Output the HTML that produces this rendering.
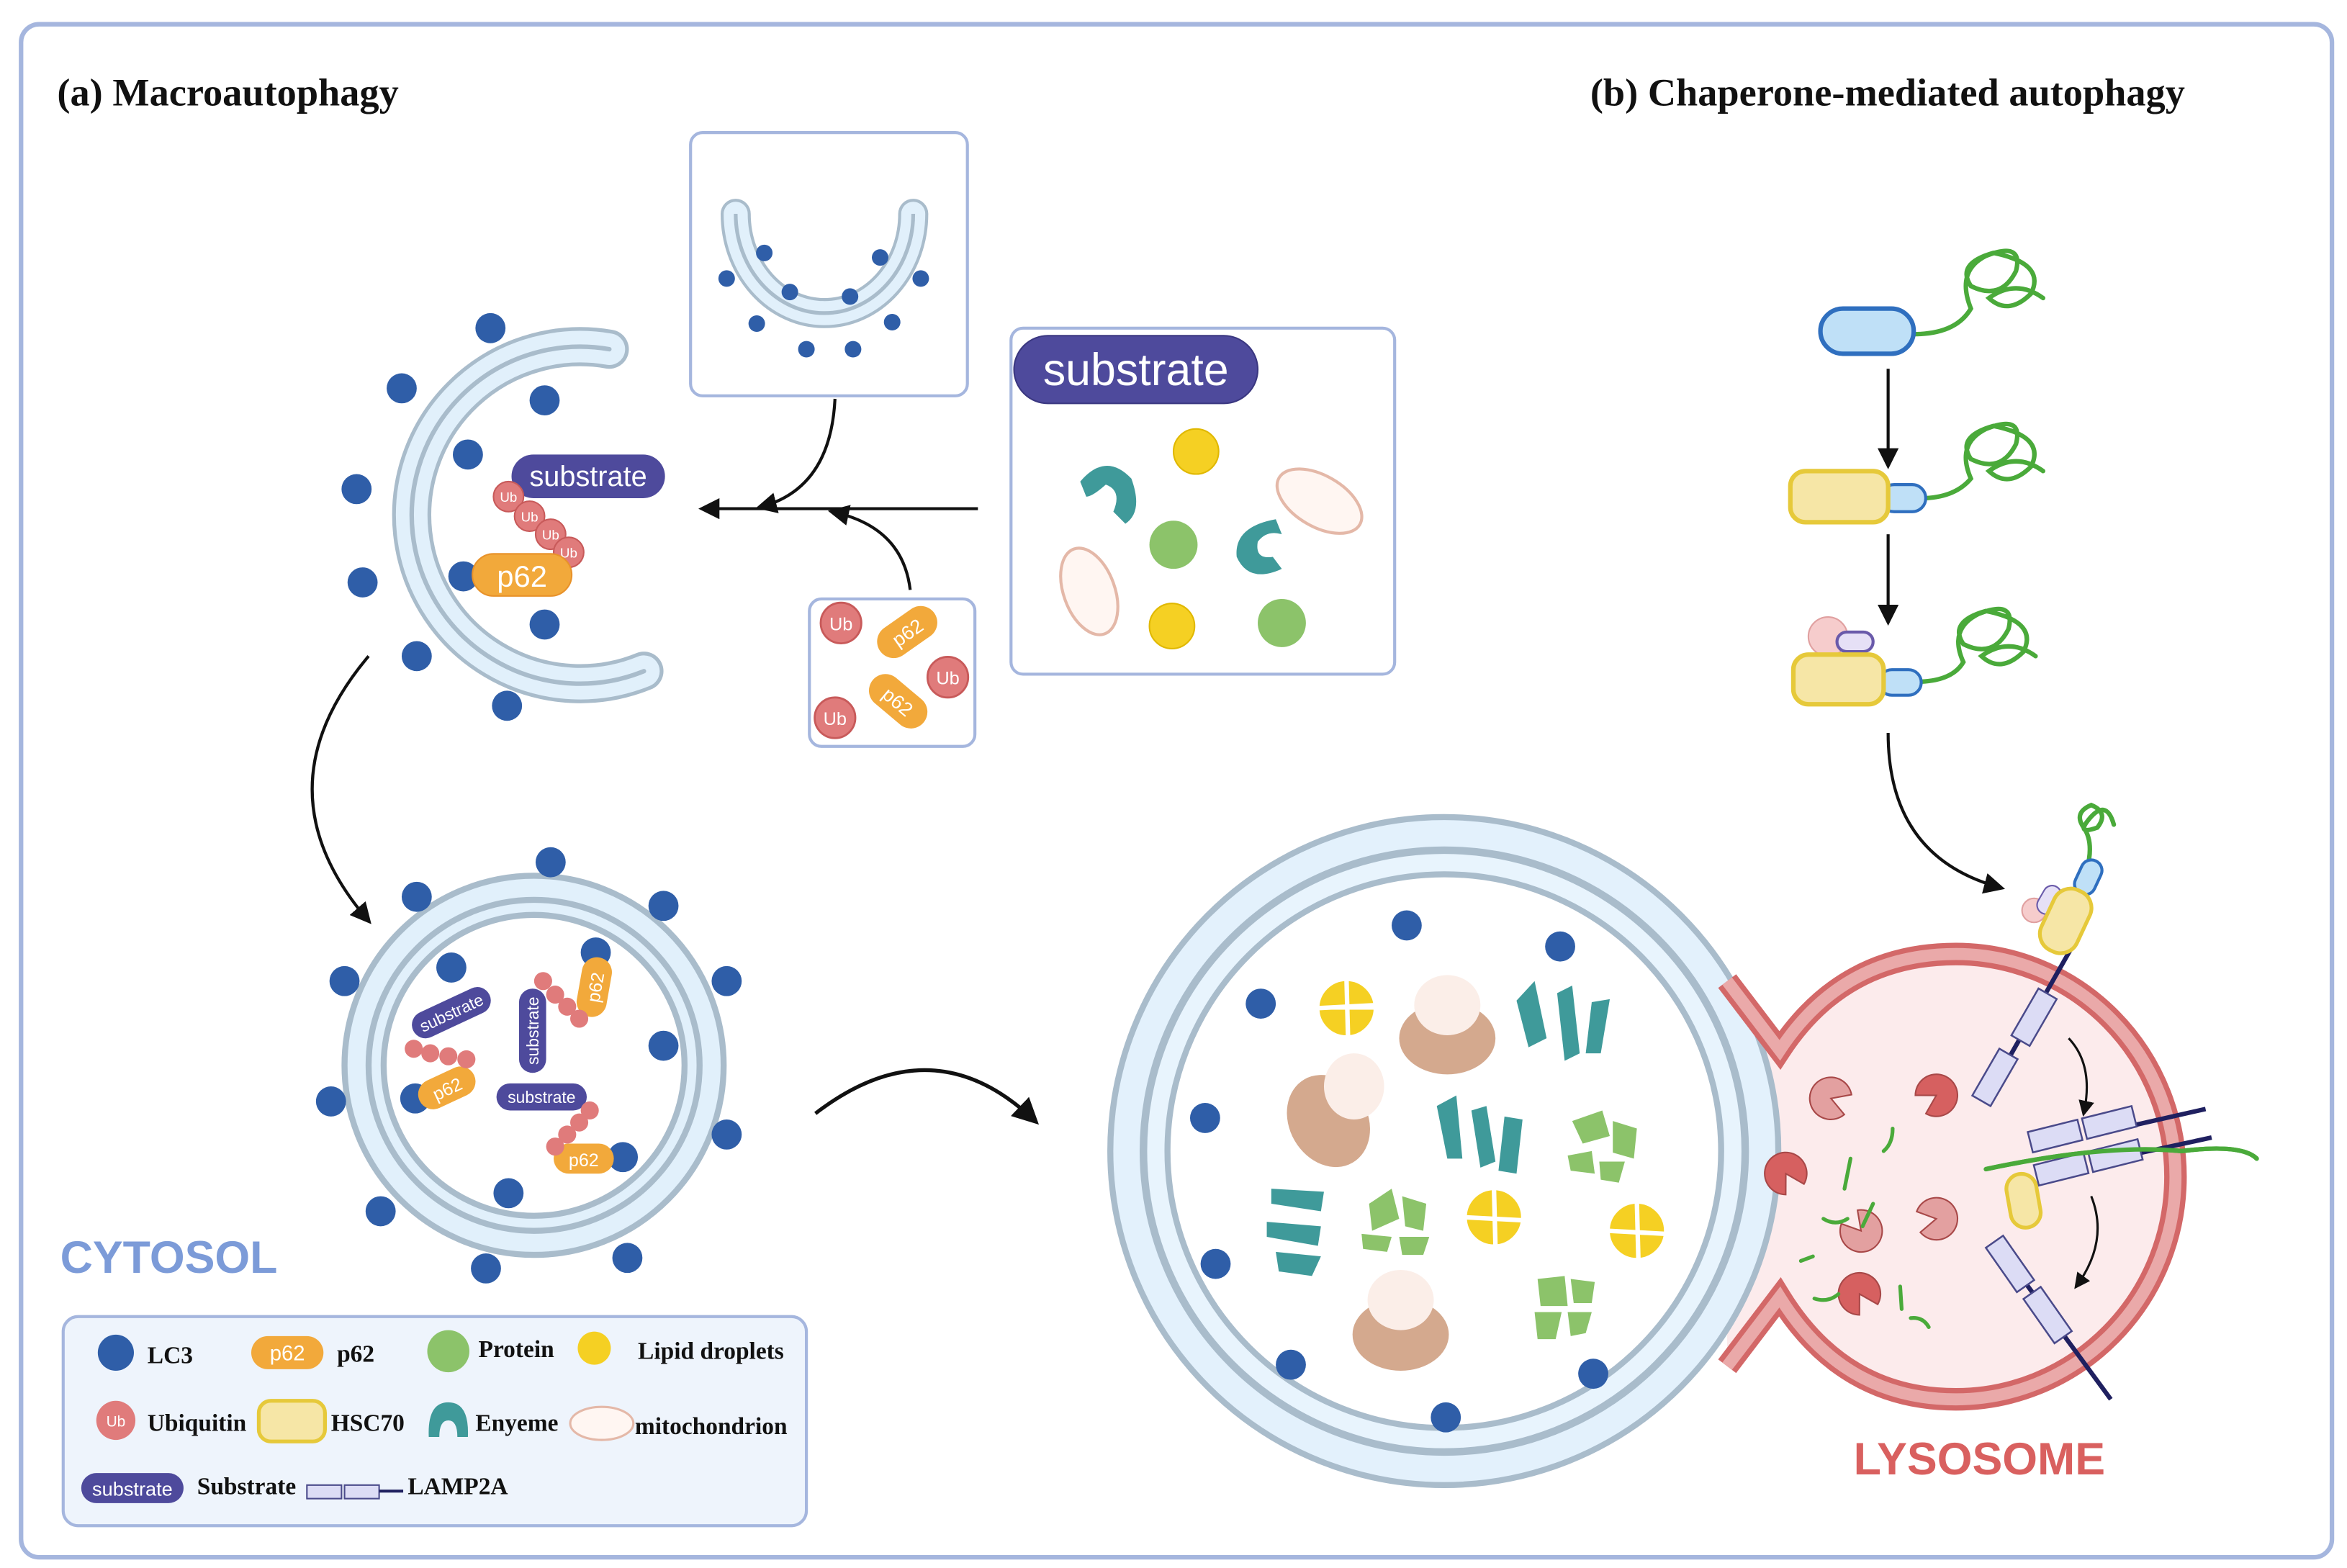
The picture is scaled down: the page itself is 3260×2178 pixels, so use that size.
<!DOCTYPE html>
<html><head><meta charset="utf-8"><style>
html,body{margin:0;padding:0;background:#fff;}
svg{display:block;}
.t{font-family:"Liberation Serif",serif;font-weight:bold;fill:#111;}
.s{font-family:"Liberation Sans",sans-serif;fill:#fff;}
</style></head><body>
<svg width="3260" height="2178" viewBox="0 0 1560 1042" xmlns="http://www.w3.org/2000/svg">
<defs>
<marker id="ah" viewBox="0 0 10 10" refX="8" refY="5" markerWidth="7" markerHeight="7" orient="auto"><path d="M0,0 L10,5 L0,10 Z" fill="#111"/></marker>
<g id="lc3"><circle r="10" fill="#2f5ea8"/></g>
<g id="ub"><circle r="10" fill="#e07b7b" stroke="#c85a5a" stroke-width="1"/><text y="3.5" text-anchor="middle" class="s" font-size="9">Ub</text></g>
<g id="pac"><path d="M0,0 L12,-7 A14,14 0 1 0 12,7 Z" /></g>
</defs>
<rect x="0" y="0" width="1560" height="1042" fill="#fff"/>
<rect x="14" y="16" width="1536" height="1019" rx="12" fill="none" stroke="#a5b6de" stroke-width="3"/>
<text x="38" y="70" class="t" font-size="26">(a) Macroautophagy</text>
<text x="1057" y="70" class="t" font-size="26">(b) Chaperone-mediated autophagy</text>

<!-- phagophore C -->
<path d="M405,232 A112,112 0 1 0 428,446" fill="none" stroke="#a9bccb" stroke-width="26" stroke-linecap="round"/>
<path d="M405,232 A112,112 0 1 0 428,446" fill="none" stroke="#e1f0fb" stroke-width="21" stroke-linecap="round"/>
<path d="M405,232 A112,112 0 1 0 428,446" fill="none" stroke="#a9bccb" stroke-width="3" stroke-linecap="round"/>
<use href="#lc3" x="326" y="218"/><use href="#lc3" x="267" y="258"/><use href="#lc3" x="362" y="266"/><use href="#lc3" x="237" y="325"/><use href="#lc3" x="311" y="302"/><use href="#lc3" x="241" y="387"/><use href="#lc3" x="308" y="383"/><use href="#lc3" x="362" y="415"/><use href="#lc3" x="277" y="436"/><use href="#lc3" x="337" y="469"/>
<rect x="340" y="302" width="102" height="29" rx="14.5" fill="#4e4a9c"/><text x="391" y="323" text-anchor="middle" class="s" font-size="19">substrate</text>
<use href="#ub" x="338" y="330"/><use href="#ub" x="352" y="343"/><use href="#ub" x="366" y="355"/><use href="#ub" x="378" y="367"/>
<rect x="314" y="368" width="66" height="28" rx="14" fill="#f2a93b" stroke="#e8922a"/><text x="347" y="390" text-anchor="middle" class="s" font-size="20">p62</text>

<!-- top box -->
<rect x="459" y="88" width="184" height="175" rx="8" fill="#fff" stroke="#a5b6de" stroke-width="2"/>
<path d="M489,142 A59,66 0 0 0 607,142" fill="none" stroke="#a9bccb" stroke-width="20" stroke-linecap="round"/>
<path d="M489,142 A59,66 0 0 0 607,142" fill="none" stroke="#e1f0fb" stroke-width="16" stroke-linecap="round"/>
<path d="M489,142 A59,66 0 0 0 607,142" fill="none" stroke="#a9bccb" stroke-width="2.5"/>
<g transform="scale(1)"><circle cx="508" cy="168" r="5.5" fill="#2f5ea8"/><circle cx="483" cy="185" r="5.5" fill="#2f5ea8"/><circle cx="525" cy="194" r="5.5" fill="#2f5ea8"/><circle cx="503" cy="215" r="5.5" fill="#2f5ea8"/><circle cx="536" cy="232" r="5.5" fill="#2f5ea8"/><circle cx="567" cy="232" r="5.5" fill="#2f5ea8"/><circle cx="565" cy="197" r="5.5" fill="#2f5ea8"/><circle cx="593" cy="214" r="5.5" fill="#2f5ea8"/><circle cx="585" cy="171" r="5.5" fill="#2f5ea8"/><circle cx="612" cy="185" r="5.5" fill="#2f5ea8"/></g>

<!-- substrate box -->
<rect x="672" y="218" width="255" height="230" rx="8" fill="#fff" stroke="#a5b6de" stroke-width="2"/>
<rect x="674" y="223" width="162" height="45" rx="22.5" fill="#4e4a9c" stroke="#3a3780"/>
<text x="755" y="256" text-anchor="middle" class="s" font-size="30">substrate</text>
<circle cx="795" cy="300" r="15" fill="#f5d023" stroke="#e0b800"/><circle cx="779" cy="416" r="15" fill="#f5d023" stroke="#e0b800"/>
<path d="M718,320 Q735,300 752,318 Q760,340 748,348 L740,340 Q746,326 735,322 Q726,330 722,330 Z" fill="#3f9a9a"/>
<path d="M848,345 Q820,350 822,370 Q830,388 852,378 L846,370 Q834,372 836,360 Q842,352 852,355 Z" fill="#3f9a9a"/>
<circle cx="780" cy="362" r="16" fill="#8cc36a"/><circle cx="852" cy="414" r="16" fill="#8cc36a"/>
<ellipse cx="877" cy="333" rx="31" ry="17" transform="rotate(30 877 333)" fill="#fff6f2" stroke="#e4b8a8" stroke-width="2"/>
<ellipse cx="724" cy="393" rx="30" ry="17" transform="rotate(70 724 393)" fill="#fff6f2" stroke="#e4b8a8" stroke-width="2"/>

<!-- ub/p62 box -->
<rect x="538" y="398" width="110" height="98" rx="8" fill="#fff" stroke="#a5b6de" stroke-width="2"/>
<use href="#ub" transform="translate(559,414) scale(1.35)"/><use href="#ub" transform="translate(630,450) scale(1.35)"/><use href="#ub" transform="translate(555,477) scale(1.35)"/>
<g transform="translate(603,420) rotate(-35)"><rect x="-22" y="-11" width="44" height="22" rx="11" fill="#f2a93b"/><text y="5" text-anchor="middle" class="s" font-size="13">p62</text></g>
<g transform="translate(597,466) rotate(40)"><rect x="-22" y="-11" width="44" height="22" rx="11" fill="#f2a93b"/><text y="5" text-anchor="middle" class="s" font-size="13">p62</text></g>

<!-- arrows top -->
<path d="M650,338 L467,338" stroke="#111" stroke-width="2" fill="none" marker-end="url(#ah)"/>
<path d="M555,265 Q552,325 505,337" stroke="#111" stroke-width="2" fill="none" marker-end="url(#ah)"/>
<path d="M605,392 Q600,350 553,340" stroke="#111" stroke-width="2" fill="none" marker-end="url(#ah)"/>
<path d="M245,436 Q170,525 245,612" stroke="#111" stroke-width="2" fill="none" marker-end="url(#ah)"/>
<path d="M542,740 Q620,680 688,745" stroke="#111" stroke-width="2.5" fill="none" marker-end="url(#ah)"/>

<!-- autophagosome -->
<circle cx="355" cy="708" r="126" fill="#e1f0fb" stroke="#a9bccb" stroke-width="4"/>
<circle cx="355" cy="708" r="110" fill="#e1f0fb" stroke="#a9bccb" stroke-width="4"/>
<circle cx="355" cy="708" r="100" fill="#fff" stroke="#a9bccb" stroke-width="4"/>
<use href="#lc3" x="366" y="573"/><use href="#lc3" x="277" y="596"/><use href="#lc3" x="441" y="602"/><use href="#lc3" x="229" y="652"/><use href="#lc3" x="483" y="652"/><use href="#lc3" x="220" y="732"/><use href="#lc3" x="483" y="754"/><use href="#lc3" x="253" y="805"/><use href="#lc3" x="417" y="836"/><use href="#lc3" x="323" y="843"/><use href="#lc3" x="300" y="643"/><use href="#lc3" x="396" y="633"/><use href="#lc3" x="441" y="695"/><use href="#lc3" x="276" y="730"/><use href="#lc3" x="338" y="793"/><use href="#lc3" x="414" y="769"/>
<g transform="translate(300,673) rotate(-25)"><rect x="-28" y="-9" width="56" height="18" rx="9" fill="#4e4a9c"/><text y="4" text-anchor="middle" class="s" font-size="11">substrate</text></g>
<g transform="translate(354,685) rotate(-90)"><rect x="-28" y="-9" width="56" height="18" rx="9" fill="#4e4a9c"/><text y="4" text-anchor="middle" class="s" font-size="11">substrate</text></g>
<rect x="330" y="720" width="60" height="18" rx="9" fill="#4e4a9c"/><text x="360" y="733" text-anchor="middle" class="s" font-size="11">substrate</text>
<g transform="translate(395,656) rotate(-80)"><rect x="-20" y="-10" width="40" height="20" rx="10" fill="#f2a93b"/><text y="5" text-anchor="middle" class="s" font-size="12">p62</text></g>
<g transform="translate(297,723) rotate(-25)"><rect x="-20" y="-10" width="40" height="20" rx="10" fill="#f2a93b"/><text y="5" text-anchor="middle" class="s" font-size="12">p62</text></g>
<rect x="368" y="760" width="40" height="20" rx="10" fill="#f2a93b"/><text x="388" y="775" text-anchor="middle" class="s" font-size="12">p62</text>
<g fill="#e07b7b"><circle cx="275" cy="697" r="6"/><circle cx="286" cy="700" r="6"/><circle cx="298" cy="702" r="6"/><circle cx="310" cy="704" r="6"/><circle cx="361" cy="652" r="6"/><circle cx="369" cy="661" r="6"/><circle cx="377" cy="669" r="6"/><circle cx="385" cy="677" r="6"/><circle cx="392" cy="738" r="6"/><circle cx="385" cy="746" r="6"/><circle cx="377" cy="754" r="6"/><circle cx="369" cy="762" r="6"/></g>
<text x="40" y="846" font-family="Liberation Sans,sans-serif" font-weight="bold" font-size="30" fill="#7c9bd8">CYTOSOL</text>

<!-- lysosome fill -->
<path d="M1148,652 L1183,698 Q1225,634 1300,634 A146,148 0 0 1 1300,930 Q1225,930 1183,862 L1148,908 Z" fill="#fcebec"/>
<!-- big autolysosome -->
<circle cx="960" cy="765" r="222" fill="#e3f1fc" stroke="#a9bccb" stroke-width="4"/>
<circle cx="960" cy="765" r="200" fill="#e8f4fd" stroke="#a9bccb" stroke-width="5"/>
<circle cx="960" cy="765" r="184" fill="#fff" stroke="#a9bccb" stroke-width="4"/>
<!-- lysosome membrane -->
<path d="M1148,652 L1183,698 Q1225,634 1300,634 A146,148 0 0 1 1300,930 Q1225,930 1183,862 L1148,908" fill="none" stroke="#d36868" stroke-width="15"/>
<path d="M1148,652 L1183,698 Q1225,634 1300,634 A146,148 0 0 1 1300,930 Q1225,930 1183,862 L1148,908" fill="none" stroke="#eaa9a9" stroke-width="8"/>
<use href="#lc3" x="935" y="615"/><use href="#lc3" x="1037" y="629"/><use href="#lc3" x="838" y="667"/><use href="#lc3" x="801" y="743"/><use href="#lc3" x="808" y="840"/><use href="#lc3" x="858" y="907"/><use href="#lc3" x="961" y="942"/><use href="#lc3" x="1059" y="913"/>
<!-- contents -->
<g fill="#f5d023" stroke="#fff" stroke-width="2"><circle cx="895" cy="670" r="19"/><circle cx="993" cy="809" r="19"/><circle cx="1088" cy="818" r="19"/><line x1="876" y1="670" x2="914" y2="670"/></g>
<g stroke="#fff" stroke-width="3"><line x1="876" y1="670" x2="914" y2="668"/><line x1="895" y1="651" x2="896" y2="689"/><line x1="974" y1="809" x2="1012" y2="811"/><line x1="993" y1="790" x2="994" y2="828"/><line x1="1069" y1="818" x2="1107" y2="820"/><line x1="1088" y1="799" x2="1089" y2="837"/></g>
<g fill="#d4a98e"><ellipse cx="962" cy="690" rx="32" ry="24"/><ellipse cx="883" cy="745" rx="26" ry="32" transform="rotate(-30 883 745)"/><ellipse cx="931" cy="887" rx="32" ry="24"/></g>
<g fill="#fbeee8"><ellipse cx="962" cy="668" rx="22" ry="20"/><ellipse cx="900" cy="722" rx="20" ry="22"/><ellipse cx="931" cy="864" rx="22" ry="20"/></g>
<g fill="#3f9a9a"><path d="M1008,665 L1020,652 L1028,690 L1016,696 Z"/><path d="M1035,660 L1045,655 L1050,700 L1040,705 Z"/><path d="M1058,666 L1070,664 L1064,700 L1054,700 Z"/><path d="M955,735 L968,728 L972,770 L962,770 Z"/><path d="M978,738 L988,735 L994,772 L984,776 Z"/><path d="M1000,742 L1012,744 L1008,780 L996,778 Z"/><path d="M845,790 L880,792 L878,805 L845,800 Z"/><path d="M842,812 L878,815 L876,828 L842,822 Z"/><path d="M848,832 L878,835 L872,848 L850,845 Z"/></g>
<g fill="#8cc36a"><path d="M1045,745 L1065,738 L1070,755 L1052,760 Z"/><path d="M1072,745 L1088,750 L1086,770 L1072,766 Z"/><path d="M1042,768 L1058,765 L1060,780 L1044,778 Z"/><path d="M1063,772 L1080,772 L1076,786 L1064,784 Z"/><path d="M910,800 L925,790 L930,810 L912,818 Z"/><path d="M932,795 L948,800 L946,818 L934,815 Z"/><path d="M905,820 L925,822 L922,832 L906,830 Z"/><path d="M930,822 L950,822 L946,834 L932,834 Z"/><path d="M1022,850 L1040,848 L1042,868 L1024,868 Z"/><path d="M1044,850 L1060,852 L1058,866 L1046,866 Z"/><path d="M1020,872 L1038,872 L1034,890 L1022,890 Z"/><path d="M1042,872 L1058,872 L1054,886 L1044,888 Z"/></g>
<!-- enzymes -->
<g stroke="#a84848" stroke-width="1">
<use href="#pac" transform="translate(1217,730) rotate(20)" fill="#e3a0a0"/>
<use href="#pac" transform="translate(1287,728) rotate(150)" fill="#d66060"/>
<use href="#pac" transform="translate(1187,780) rotate(60)" fill="#d66060"/>
<use href="#pac" transform="translate(1237,818) rotate(-130)" fill="#e3a0a0"/>
<use href="#pac" transform="translate(1287,810) rotate(170)" fill="#e3a0a0"/>
<use href="#pac" transform="translate(1236,860) rotate(60)" fill="#d66060"/>
</g>
<g stroke="#4aaa3a" stroke-width="2.5" fill="none" stroke-linecap="round"><path d="M1258,750 Q1258,760 1252,765"/><path d="M1230,770 L1226,790"/><path d="M1245,800 L1238,815"/><path d="M1212,810 Q1220,815 1228,810"/><path d="M1197,838 L1205,835"/><path d="M1206,863 Q1215,866 1222,860"/><path d="M1263,855 L1264,870"/><path d="M1270,876 Q1278,875 1282,882"/></g>
<text x="1232" y="980" font-family="Liberation Sans,sans-serif" font-weight="bold" font-size="30" fill="#d9605f">LYSOSOME</text>

<!-- CMA chain -->
<g stroke="#4aaa3a" stroke-width="3" fill="none" stroke-linecap="round">
<path d="M1272,222 Q1300,222 1310,205 Q1300,180 1320,170 Q1345,160 1340,180 Q1330,200 1310,190 Q1300,175 1325,168 Q1360,175 1350,195 Q1335,210 1322,198 Q1340,185 1358,198"/>
<path d="M1280,331 Q1300,330 1310,318 Q1300,295 1320,285 Q1345,275 1340,295 Q1330,315 1310,305 Q1300,290 1325,283 Q1360,290 1350,310 Q1335,325 1322,313 Q1340,300 1358,313"/>
<path d="M1277,453 Q1298,452 1305,440 Q1295,418 1315,408 Q1340,398 1335,418 Q1325,438 1305,428 Q1295,413 1320,406 Q1355,413 1345,433 Q1330,448 1317,436 Q1335,423 1353,436"/>
<path d="M1387,578 Q1392,560 1385,550 Q1378,540 1390,535 Q1402,540 1394,550 Q1380,555 1388,545 Q1400,530 1405,548"/>
<path d="M1320,777 Q1400,760 1450,765 Q1490,760 1500,770"/>
</g>
<rect x="1210" y="205" width="62" height="30" rx="15" fill="#bfe0f7" stroke="#2f6fbf" stroke-width="3"/>
<path d="M1255,245 L1255,309" stroke="#111" stroke-width="2" marker-end="url(#ah)"/>
<rect x="1250" y="322" width="30" height="18" rx="9" fill="#bfe0f7" stroke="#2f6fbf" stroke-width="2"/>
<rect x="1190" y="313" width="65" height="34" rx="10" fill="#f6e6a6" stroke="#e6c93a" stroke-width="3"/>
<path d="M1255,355 L1255,413" stroke="#111" stroke-width="2" marker-end="url(#ah)"/>
<circle cx="1215" cy="423" r="13" fill="#f6cccc" stroke="#e0a0a0"/>
<rect x="1221" y="420" width="24" height="13" rx="6.5" fill="#e6e0f6" stroke="#6a5aaa" stroke-width="2"/>
<rect x="1249" y="445" width="28" height="17" rx="8.5" fill="#bfe0f7" stroke="#2f6fbf" stroke-width="2"/>
<rect x="1192" y="435" width="60" height="33" rx="10" fill="#f6e6a6" stroke="#e6c93a" stroke-width="3"/>
<path d="M1255,487 Q1255,570 1330,590" stroke="#111" stroke-width="2" fill="none" marker-end="url(#ah)"/>
<!-- LAMP2A at top -->
<line x1="1378" y1="628" x2="1320" y2="730" stroke="#1f2060" stroke-width="3"/>
<g fill="#dcdcf5" stroke="#4a4a8a" stroke-width="1.2">
<rect x="-7" y="-18" width="14" height="36" transform="translate(1352,676) rotate(30)"/>
<rect x="-7" y="-18" width="14" height="36" transform="translate(1326,716) rotate(30)"/>
</g>
<circle cx="1352" cy="605" r="8" fill="#f6cccc" stroke="#e0a0a0"/>
<rect x="-6" y="-10" width="12" height="20" rx="6" transform="translate(1362,598) rotate(30)" fill="#e6e0f6" stroke="#6a5aaa"/>
<rect x="-7" y="-12" width="14" height="24" rx="7" transform="translate(1388,583) rotate(25)" fill="#bfe0f7" stroke="#2f6fbf" stroke-width="2"/>
<rect x="-13" y="-22" width="26" height="44" rx="12" transform="translate(1373,612) rotate(25)" fill="#f6e6a6" stroke="#e6c93a" stroke-width="2.5"/>
<!-- LAMP2A middle multimer -->
<g stroke="#1f2060" stroke-width="3"><line x1="1400" y1="752" x2="1466" y2="737"/><line x1="1405" y1="770" x2="1470" y2="756"/></g>
<g fill="#dcdcf5" stroke="#4a4a8a" stroke-width="1.2">
<rect x="-17" y="-7" width="34" height="14" transform="translate(1366,755) rotate(-14)"/>
<rect x="-17" y="-7" width="34" height="14" transform="translate(1402,746) rotate(-14)"/>
<rect x="-17" y="-7" width="34" height="14" transform="translate(1370,777) rotate(-14)"/>
<rect x="-17" y="-7" width="34" height="14" transform="translate(1406,768) rotate(-14)"/>
</g>
<path d="M1320,777 Q1400,760 1450,765 Q1490,760 1500,770" stroke="#4aaa3a" stroke-width="3" fill="none"/>
<rect x="1335" y="780" width="20" height="36" rx="10" transform="rotate(-10 1345 798)" fill="#f6e6a6" stroke="#e6c93a" stroke-width="2.5"/>
<!-- LAMP2A bottom -->
<line x1="1326" y1="825" x2="1403" y2="930" stroke="#1f2060" stroke-width="3"/>
<g fill="#dcdcf5" stroke="#4a4a8a" stroke-width="1.2">
<rect x="-7" y="-18" width="14" height="36" transform="translate(1336,840) rotate(-35)"/>
<rect x="-7" y="-18" width="14" height="36" transform="translate(1361,874) rotate(-35)"/>
</g>
<path d="M1375,690 Q1392,708 1385,740" stroke="#111" stroke-width="1.5" fill="none" marker-end="url(#ah)"/>
<path d="M1390,795 Q1402,825 1380,855" stroke="#111" stroke-width="1.5" fill="none" marker-end="url(#ah)"/>

<!-- legend -->
<rect x="42" y="875" width="494" height="139" rx="10" fill="#eef4fc" stroke="#a5b6de" stroke-width="2"/>
<circle cx="77" cy="899" r="12" fill="#2f5ea8"/><text x="98" y="906" class="t" font-size="16">LC3</text>
<rect x="167" y="888" width="48" height="22" rx="11" fill="#f2a93b"/><text x="191" y="904" text-anchor="middle" class="s" font-size="14">p62</text><text x="224" y="905" class="t" font-size="16">p62</text>
<circle cx="298" cy="898" r="14" fill="#8cc36a"/><text x="318" y="902" class="t" font-size="16">Protein</text>
<circle cx="395" cy="896" r="11" fill="#f5d023"/><text x="424" y="903" class="t" font-size="16">Lipid droplets</text>
<circle cx="77" cy="944" r="13" fill="#e07b7b"/><text x="77" y="948" text-anchor="middle" class="s" font-size="10">Ub</text><text x="98" y="951" class="t" font-size="16">Ubiquitin</text>
<rect x="172" y="931" width="44" height="27" rx="8" fill="#f6e6a6" stroke="#e6c93a" stroke-width="2.5"/><text x="220" y="951" class="t" font-size="16">HSC70</text>
<path d="M285,955 Q284,932 298,932 Q312,932 311,955 L304,955 Q304,944 298,944 Q292,944 292,955 Z" fill="#3f9a9a"/><text x="316" y="951" class="t" font-size="16">Enyeme</text>
<ellipse cx="400" cy="946" rx="21" ry="11" fill="#fff6f2" stroke="#e4b8a8" stroke-width="1.5"/><text x="422" y="953" class="t" font-size="16">mitochondrion</text>
<rect x="54" y="979" width="68" height="20" rx="10" fill="#4e4a9c"/><text x="88" y="994" text-anchor="middle" class="s" font-size="13">substrate</text><text x="131" y="993" class="t" font-size="16">Substrate</text>
<rect x="204" y="987" width="23" height="9" fill="#dcdcf5" stroke="#4a4a8a"/><rect x="229" y="987" width="23" height="9" fill="#dcdcf5" stroke="#4a4a8a"/><line x1="252" y1="991" x2="268" y2="991" stroke="#1f2060" stroke-width="2"/><text x="271" y="993" class="t" font-size="16">LAMP2A</text>
</svg>
</body></html>
